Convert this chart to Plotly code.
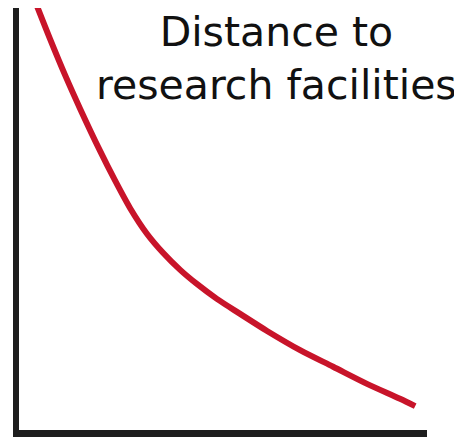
import plotly.graph_objects as go

# Curve values (axis units 0-10)
x_vals = [0.44, 0.76, 1.13, 1.50, 1.99, 2.35, 2.72, 3.14, 3.53, 3.95, 4.36, 4.85,
          5.42, 6.08, 6.89, 7.70, 8.53, 9.34, 9.71]
y_vals = [9.93, 9.16, 8.31, 7.52, 6.53, 5.85, 5.20, 4.59, 4.15, 3.75, 3.42, 3.07,
          2.72, 2.32, 1.87, 1.48, 1.08, 0.73, 0.56]
label_lines = ["Distance to", "research facilities"]

fig = go.Figure()
fig.add_trace(go.Scatter(
    x=x_vals, y=y_vals, mode="lines",
    line=dict(color="#C8142A", width=6, shape="spline", smoothing=0.8),
    hoverinfo="skip", showlegend=False,
))

fig.add_annotation(
    text="<br>".join(label_lines),
    xref="paper", yref="paper", x=0.632, y=0.8815,
    xanchor="center", yanchor="middle", showarrow=False,
    font=dict(family="DejaVu Sans", size=41, color="#111111"),
    align="center",
)

fig.update_layout(
    width=462, height=443,
    margin=dict(l=11, r=43, t=0, b=21),
    paper_bgcolor="white", plot_bgcolor="white",
    xaxis=dict(range=[0, 10], showgrid=False, zeroline=False, showticklabels=False,
               ticks="", showline=True, linecolor="#1e1e1e", linewidth=7),
    yaxis=dict(range=[0, 9.883], showgrid=False, zeroline=False, showticklabels=False,
               ticks="", showline=True, linecolor="#1e1e1e", linewidth=6),
)

fig.write_html("out.html")
